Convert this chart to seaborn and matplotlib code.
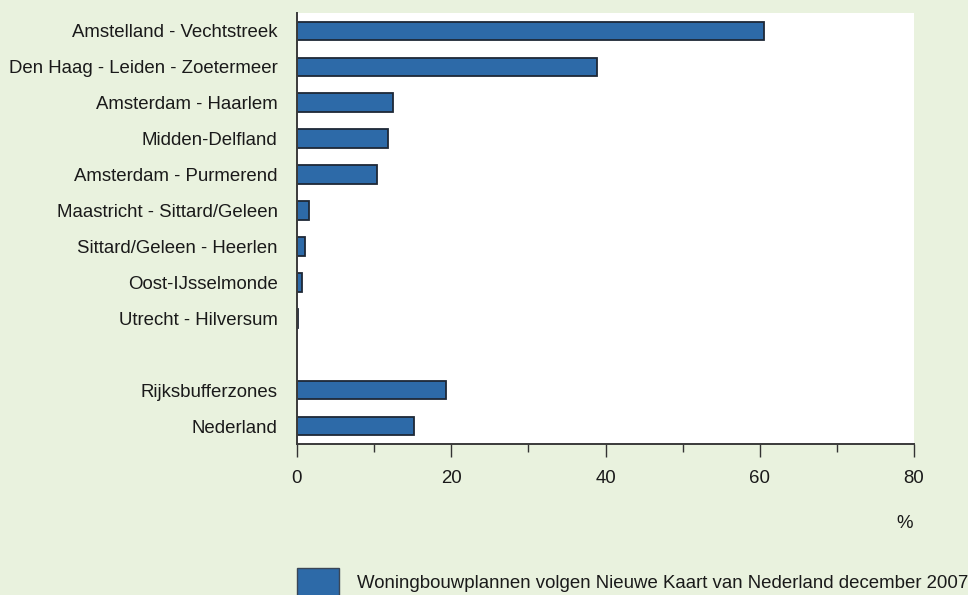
import matplotlib
matplotlib.use("Agg")
import matplotlib.pyplot as plt
from matplotlib.patches import Patch
from matplotlib.ticker import MultipleLocator
import seaborn as sns
import pandas as pd
import numpy as np

# Share of housing plans per area (%)
regions = [
    "Amstelland - Vechtstreek",
    "Den Haag - Leiden - Zoetermeer",
    "Amsterdam - Haarlem",
    "Midden-Delfland",
    "Amsterdam - Purmerend",
    "Maastricht - Sittard/Geleen",
    "Sittard/Geleen - Heerlen",
    "Oost-IJsselmonde",
    "Utrecht - Hilversum",
    " ",
    "Rijksbufferzones",
    "Nederland",
]
percentages = [60.6, 38.9, 12.4, 11.8, 10.4, 1.6, 1.1, 0.7, 0.1, np.nan, 19.3, 15.2]
x_ticks = [0, 20, 40, 60, 80]
x_unit = "%"
series_label = "Woningbouwplannen volgen Nieuwe Kaart van Nederland december 2007"

BG = "#E9F2DE"
BAR = "#2D6AA8"
EDGE = "#1E2836"
TEXT = "#1a1a1a"
FS = 13.4

sns.set_style("white")
plt.rcParams["font.family"] = ["Liberation Sans", "DejaVu Sans"]
plt.rcParams["font.size"] = FS

df = pd.DataFrame({"region": regions, "pct": percentages})

fig = plt.figure(figsize=(9.68, 5.95), dpi=100, facecolor=BG)
ax = fig.add_axes([297 / 968, 1 - 444 / 595, (914 - 297) / 968, (444 - 13) / 595])
ax.set_facecolor("white")

sns.barplot(
    data=df.dropna(), x="pct", y="region", order=regions, orient="h",
    color=BAR, saturation=1, width=0.52, edgecolor=EDGE, linewidth=1.3, ax=ax,
)

ax.set_xlim(x_ticks[0], x_ticks[-1])
ax.set_ylim(len(regions) - 0.5, -0.5)
ax.set_xticks(x_ticks)
ax.set_xticklabels([str(t) for t in x_ticks], color=TEXT, fontsize=FS)
ax.xaxis.set_minor_locator(MultipleLocator(10))
ax.tick_params(axis="x", which="both", bottom=True, top=False)
ax.tick_params(axis="x", which="major", direction="out", length=9.5, width=1.0,
               color="#333333", pad=9)
ax.tick_params(axis="x", which="minor", direction="out", length=5.5, width=1.0,
               color="#333333")
ax.tick_params(axis="y", left=False, length=0, pad=14, labelsize=FS, labelcolor=TEXT)
ax.set_xlabel("")
ax.set_ylabel("")

for side in ("top", "right"):
    ax.spines[side].set_visible(False)
for side in ("left", "bottom"):
    ax.spines[side].set_color("#3a3a3a")
    ax.spines[side].set_linewidth(1.4)

fig.text(905 / 968, 1 - 523 / 595, x_unit, ha="center", va="center",
         fontsize=FS, color=TEXT)

fig.legend(
    handles=[Patch(facecolor=BAR, edgecolor="#3a4656", linewidth=1.0)],
    labels=[series_label],
    loc="center left", bbox_to_anchor=(297 / 968, 1 - 582 / 595),
    frameon=False, fontsize=FS, handlelength=2.25, handleheight=1.9,
    handletextpad=1.0, borderpad=0, borderaxespad=0, labelcolor=TEXT,
)

fig.savefig("out.png", dpi=100, facecolor=BG)
